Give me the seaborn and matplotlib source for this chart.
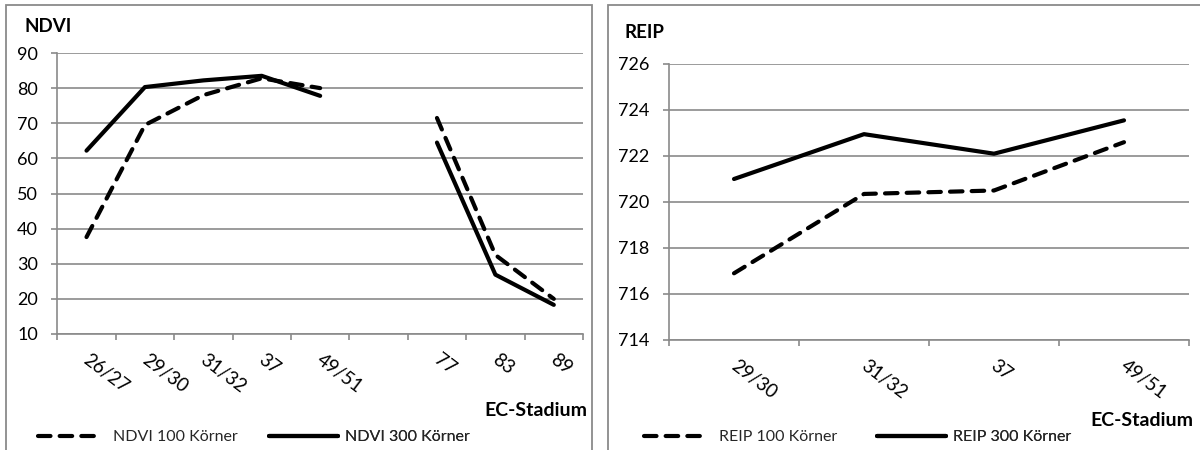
import numpy as np
import pandas as pd
import matplotlib
matplotlib.use("Agg")
import matplotlib.pyplot as plt
import seaborn as sns
from matplotlib.lines import Line2D
from matplotlib.patches import Rectangle
from matplotlib.transforms import ScaledTranslation

# ---------------- data ----------------
ndvi_categories = ["26/27", "29/30", "31/32", "37", "49/51", "", "77", "83", "89"]
ndvi_100 = [37.6, 69.5, 78.0, 82.8, 80.0, np.nan, 71.5, 32.5, 20.0]
ndvi_300 = [62.2, 80.3, 82.2, 83.5, 77.8, np.nan, 64.5, 26.9, 18.3]

reip_categories = ["29/30", "31/32", "37", "49/51"]
reip_100 = [716.9, 720.35, 720.5, 722.6]
reip_300 = [721.0, 722.95, 722.1, 723.55]

ndvi_labels = ["NDVI 100 Körner", "NDVI 300 Körner"]
reip_labels = ["REIP 100 Körner", "REIP 300 Körner"]

ndvi_ticks = [10, 20, 30, 40, 50, 60, 70, 80, 90]
reip_ticks = [714, 716, 718, 720, 722, 724, 726]


def long_df(series):
    rows = []
    for name, vals in series.items():
        seg = 0
        for i, v in enumerate(vals):
            if v is None or np.isnan(v):
                seg += 1
                continue
            rows.append(dict(pos=i, value=v, series=name, seg=f"{name}-{seg}"))
    return pd.DataFrame(rows)


df_ndvi = long_df({ndvi_labels[0]: ndvi_100, ndvi_labels[1]: ndvi_300})
df_reip = long_df({reip_labels[0]: reip_100, reip_labels[1]: reip_300})

# ---------------- style ----------------
sns.set_theme(style="white")
plt.rcParams["font.family"] = ["Lato", "DejaVu Sans"]

GREY = "#8a8a8a"
LW = 3.0
DASH = (3, 2.2)

fig = plt.figure(figsize=(12, 4.5), dpi=100)
W, H = 1200, 450

ax1 = fig.add_axes([57.3 / W, 1 - 334 / H, (583 - 57.3) / W, (334 - 53) / H])
ax2 = fig.add_axes([669 / W, 1 - 340 / H, (1189 - 669) / W, (340 - 64) / H])


def draw(ax, df, labels, cats, yticks):
    sns.lineplot(
        data=df, x="pos", y="value", style="series", units="seg",
        estimator=None, sort=False, legend=False, ax=ax,
        dashes={labels[0]: DASH, labels[1]: ""},
        color="black", lw=LW,
        dash_capstyle="round", solid_capstyle="round",
        solid_joinstyle="round", dash_joinstyle="round",
    )
    n = len(cats)
    ax.set_xlim(-0.5, n - 0.5)
    ax.set_ylim(yticks[0], yticks[-1])
    ax.set_yticks(yticks)
    ax.set_xlabel("")
    ax.set_ylabel("")
    ax.grid(axis="y", color=GREY, lw=1.2)
    ax.grid(axis="x", visible=False)
    ax.set_axisbelow(True)
    for s in ["top", "right"]:
        ax.spines[s].set_visible(False)
    for s in ["left", "bottom"]:
        ax.spines[s].set_color(GREY)
        ax.spines[s].set_linewidth(1.2)
    ax.tick_params(axis="y", which="major", left=True, length=4, width=1.2,
                   color=GREY, pad=10, labelsize=13, labelcolor="black")
    ax.set_xticks(range(n))
    ax.set_xticklabels(cats, rotation=-37, ha="left", va="top",
                       rotation_mode="anchor")
    ax.set_xticks(np.arange(-0.5, n), minor=True)
    ax.tick_params(axis="x", which="major", bottom=True, length=0, pad=12,
                   labelsize=13.5, labelcolor="black")
    ax.tick_params(axis="x", which="minor", bottom=True, length=4, width=1.2,
                   color=GREY)
    off = ScaledTranslation(4 / 100, 0, fig.dpi_scale_trans)
    for lab in ax.get_xticklabels():
        lab.set_transform(lab.get_transform() + off)


draw(ax1, df_ndvi, ndvi_labels, ndvi_categories, ndvi_ticks)
draw(ax2, df_reip, reip_labels, reip_categories, reip_ticks)

dash_handle = Line2D([], [], color="black", lw=LW, dashes=DASH,
                     dash_capstyle="round")
solid_handle = Line2D([], [], color="black", lw=LW, solid_capstyle="round")

leg_kw = dict(loc="center left", bbox_transform=fig.transFigure,
              frameon=False, fontsize=11.5, borderpad=0, borderaxespad=0)


def add_legend(ax, handle, label, x0, hl, pad):
    leg = ax.legend([handle], [label], bbox_to_anchor=(x0 / W, 1 - 437 / H),
                    handlelength=hl, handletextpad=pad, **leg_kw)
    ax.add_artist(leg)


add_legend(ax1, dash_handle, ndvi_labels[0], 38, 3.5, 1.2)
add_legend(ax1, solid_handle, ndvi_labels[1], 269, 4.3, 0.45)
add_legend(ax2, dash_handle, reip_labels[0], 644, 3.5, 1.2)
add_legend(ax2, solid_handle, reip_labels[1], 877, 4.3, 0.45)

bold = dict(fontweight="bold", va="center", color="black")
fig.text(25 / W, 1 - 27 / H, "NDVI", ha="left", fontsize=13.5, **bold)
fig.text(625 / W, 1 - 33 / H, "REIP", ha="left", fontsize=13.5, **bold)
fig.text(587 / W, 1 - 410 / H, "EC-Stadium", ha="right", fontsize=14, **bold)
fig.text(1193 / W, 1 - 421 / H, "EC-Stadium", ha="right", fontsize=14, **bold)

# chart-area frames
fig.patches.append(Rectangle((6 / W, -0.1), (592 - 6) / W, 1.1 - 5 / H,
                             transform=fig.transFigure, fill=False,
                             edgecolor=GREY, lw=1.3))
fig.patches.append(Rectangle((608 / W, -0.1), (1215 - 608) / W, 1.1 - 5 / H,
                             transform=fig.transFigure, fill=False,
                             edgecolor=GREY, lw=1.3))

fig.savefig("out.png", dpi=100)
